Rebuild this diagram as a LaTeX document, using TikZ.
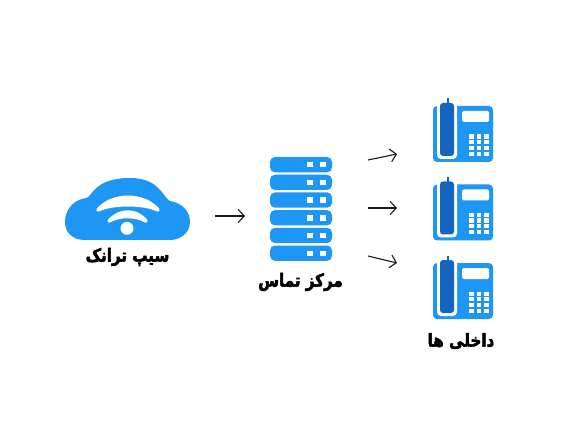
\documentclass[tikz,border=0pt]{standalone}
\usepackage{fontspec}
\usepackage{xcolor}
\usetikzlibrary{arrows.meta, positioning}
\TeXXeTstate=1
\newfontfamily\arabicfont[Script=Arabic,FakeBold=2.5,FakeStretch=0.84]{DejaVu Sans Bold}
\definecolor{iconblue}{HTML}{1E96F3}
\definecolor{handsetblue}{HTML}{1565C0}
\tikzset{
  flow/.style={draw=black!90, line width=1.1pt, -{Straight Barb[length=6pt,width=13pt]}},
  caption/.style={font=\arabicfont\fontsize{18}{18}\selectfont, inner sep=0pt},
  wave/.style={fill=white, draw=white, line width=3.5pt, line join=round}
}
\begin{document}
\begin{tikzpicture}[x=1pt,y=-1pt]
  \useasboundingbox[fill=white] (0,0) rectangle (585,427);
  % cloud
  \fill[iconblue] (85,240) .. controls (72,240) and (65,232) .. (65,222)
    .. controls (65,210) and (73,200) .. (86,198)
    .. controls (92,198) and (93,178) .. (130,178)
    .. controls (160,178) and (163,198) .. (170,201)
    .. controls (182,203) and (190,211) .. (190,222)
    .. controls (190,233) and (180,240) .. (170,240) -- cycle;
  \draw[wave] (98,210) .. controls (112,193) and (144,193) .. (158,210)
    .. controls (144,203) and (112,203) .. cycle;
  \draw[wave] (109,221) .. controls (120,209) and (136,209) .. (146,221)
    .. controls (135,215) and (120,215) .. cycle;
  \fill[white] (127,228.3) circle (6.5);
  \node[caption] (cloudlabel) at (127.5,257) {\beginR سیپ ترانک\endR};
  % server stack
  \foreach \i in {0,...,5} {
    \fill[iconblue, rounded corners=5pt] (270,157+17.7*\i) rectangle (332,172.3+17.7*\i);
    \fill[white] (307,162+17.7*\i) rectangle (313,167.5+17.7*\i);
    \fill[white] (320,162+17.7*\i) rectangle (326,167.5+17.7*\i);
  }
  \node[caption] (serverlabel) at (300.5,282) {\beginR مرکز تماس\endR};
  % phones
  \foreach \dy in {0,78.5,157} {
    \begin{scope}[yshift=-\dy pt]
      \fill[iconblue, rounded corners=4pt] (433,106) rectangle (493,162);
      \fill[white, rounded corners=4pt] (437,102) rectangle (457,159);
      \fill[handsetblue, rounded corners=3pt] (440,103) rectangle (454,156);
      \fill[handsetblue] (447,98.5) rectangle (449,104);
      \fill[white, rounded corners=1.5pt] (462,111) rectangle (489,122);
      \foreach \c in {471.7,479,486.5} {
        \foreach \r in {136.7,142.2,147.8,153.8} {
          \fill[white] (\c-2.4,\r-2.2) rectangle (\c+2.4,\r+2.2);
        }
      }
    \end{scope}
  }
  \node[caption] (phonelabel) at (461,341) {\beginR داخلی ها\endR};
  % arrows
  \coordinate (cloudout) at (215,216);
  \coordinate (serverin) at (245,216);
  \coordinate (topout) at (368,160);
  \coordinate (topin) at (397,154);
  \coordinate (midout) at (368,208);
  \coordinate (midin) at (397,208);
  \coordinate (lowout) at (368,256);
  \coordinate (lowin) at (397,263);
  \draw[flow] (cloudout) -- (serverin);
  \draw[flow] (topout) -- (topin);
  \draw[flow] (midout) -- (midin);
  \draw[flow] (lowout) -- (lowin);
\end{tikzpicture}
\end{document}
